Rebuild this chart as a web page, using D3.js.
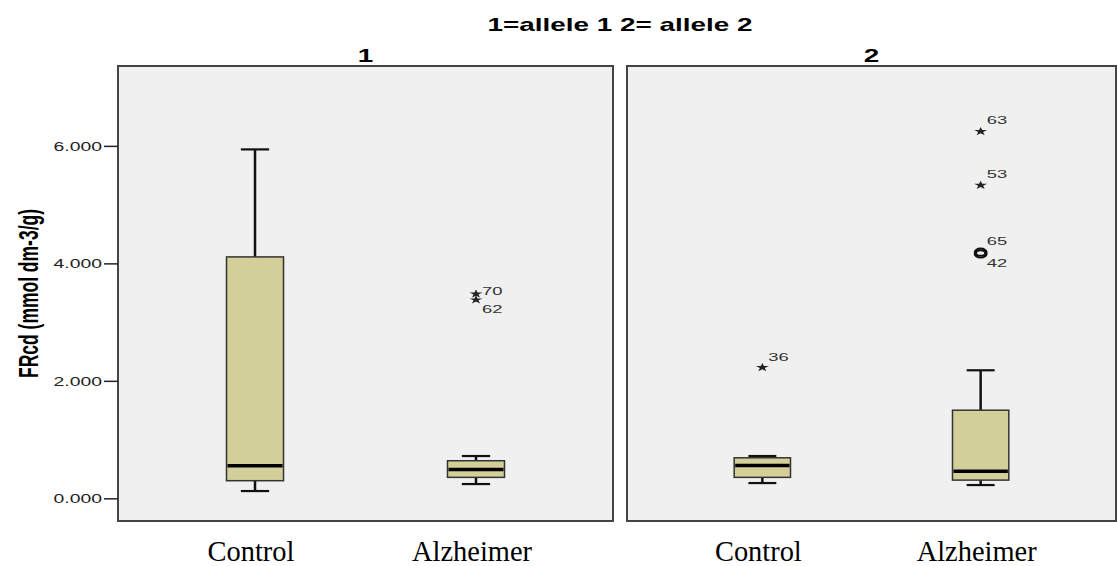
<!DOCTYPE html>
<html>
<head>
<meta charset="utf-8">
<script src="https://cdn.jsdelivr.net/npm/d3@7"></script>
<style>
  body { margin: 0; background: #ffffff; }
  svg { display: block; }
</style>
</head>
<body>
<svg id="chart" width="1117" height="566"></svg>
<script>
// Panels (allele) and groups within each panel
const panels = ["1", "2"];
const groups = ["Control", "Alzheimer"];
const yTicks = [0, 2, 4, 6];

// Box summaries per group: [lower whisker, Q1, median, Q3, upper whisker]
const allele1Stats = [
  [0.124, 0.300, 0.555, 4.110, 5.940],
  [0.243, 0.357, 0.490, 0.640, 0.720]
];
const allele2Stats = [
  [0.260, 0.357, 0.560, 0.690, 0.720],
  [0.226, 0.310, 0.459, 1.500, 2.180]
];

// Outlying cases: [group, case number, FRcd value]
const allele1Outliers = [
  ["Alzheimer", "70", 3.48],
  ["Alzheimer", "62", 3.38]
];
const allele2Outliers = [
  ["Control", "36", 2.227],
  ["Alzheimer", "63", 6.245],
  ["Alzheimer", "53", 5.33],
  ["Alzheimer", "65", 4.19],
  ["Alzheimer", "42", 4.16]
];

const panelStats = [allele1Stats, allele2Stats];
const panelOutliers = [allele1Outliers, allele2Outliers];

// ---- layout ----
const panelX = [[118, 613], [627, 1116]];
const plotTop = 66, plotBottom = 521;
const SX = 1.55;   // horizontal stretch of the sans-serif lettering
// where a case label sits relative to its marker (default: above right)
const labelSide = { "70": "e", "62": "se", "42": "se" };
const labelDy = { ne: -7, e: 1, se: 13 };

const svg = d3.select("#chart");

const y = d3.scaleLinear().domain([-0.386, 7.36]).range([plotBottom, plotTop]);

function stretchedText(g, str, x, yPos, opts) {
  return g.append("text")
    .attr("transform", `translate(${x},${yPos}) scale(${opts.sx || SX},1)`)
    .attr("text-anchor", opts.anchor || "middle")
    .attr("font-family", opts.family || "'Liberation Sans', Arial, sans-serif")
    .attr("font-size", opts.size)
    .attr("font-weight", opts.weight || "normal")
    .attr("fill", opts.fill || "#000")
    .text(str);
}

// main title
stretchedText(svg, "1=allele 1 2= allele 2", 620, 31, { size: 18, weight: "bold" });

// y axis title
svg.append("text")
  .attr("transform", `translate(28,${(plotTop + plotBottom) / 2}) scale(1.6,1) rotate(-90)`)
  .attr("text-anchor", "middle")
  .attr("dominant-baseline", "central")
  .attr("font-family", "'Liberation Sans', Arial, sans-serif")
  .attr("font-size", 17.5)
  .attr("font-weight", "bold")
  .attr("fill", "#000")
  .text("FRcd (mmol dm-3/g)");

panels.forEach((p, i) => {
  const [x0, x1] = panelX[i];
  const g = svg.append("g");

  g.append("rect")
    .attr("x", x0).attr("y", plotTop)
    .attr("width", x1 - x0).attr("height", plotBottom - plotTop)
    .attr("fill", "#f0f0f0")
    .attr("stroke", "#444")
    .attr("stroke-width", 2);

  // panel header
  stretchedText(g, p, (x0 + x1) / 2, plotTop - 4, { size: 18, weight: "bold" });

  const x = d3.scalePoint().domain(groups).range([x0, x1]).padding(0.62);
  const step = x.step();
  const hw = step * 0.129;   // half box width
  const cw = step * 0.064;   // half whisker-cap width

  panelStats[i].forEach((s, k) => {
    const [lo, q1, med, q3, hi] = s;
    const c = x(groups[k]);
    const bg = g.append("g");
    // whiskers
    bg.append("line").attr("x1", c).attr("x2", c).attr("y1", y(q3)).attr("y2", y(hi))
      .attr("stroke", "#111").attr("stroke-width", 2.5);
    bg.append("line").attr("x1", c).attr("x2", c).attr("y1", y(q1)).attr("y2", y(lo))
      .attr("stroke", "#111").attr("stroke-width", 2.5);
    [hi, lo].forEach(v => {
      bg.append("line").attr("x1", c - cw).attr("x2", c + cw).attr("y1", y(v)).attr("y2", y(v))
        .attr("stroke", "#111").attr("stroke-width", 2.2);
    });
    // box
    bg.append("rect")
      .attr("x", c - hw).attr("y", y(q3))
      .attr("width", 2 * hw).attr("height", y(q1) - y(q3))
      .attr("fill", "#d3cf98")
      .attr("stroke", "#333")
      .attr("stroke-width", 1.5);
    // median
    bg.append("line").attr("x1", c - hw + 1).attr("x2", c + hw - 1).attr("y1", y(med)).attr("y2", y(med))
      .attr("stroke", "#000").attr("stroke-width", 3.5);

    // outliers for this group
    const iqr = q3 - q1;
    panelOutliers[i].filter(o => o[0] === groups[k]).forEach(([grp, id, v]) => {
      const cy = y(v);
      const extreme = v > q3 + 3 * iqr || v < q1 - 3 * iqr;
      if (extreme) {
        bg.append("path")
          .attr("d", d3.symbol(d3.symbolStar, 23)())
          .attr("transform", `translate(${c},${cy}) scale(1.5,1)`)
          .attr("fill", "#222");
      } else {
        bg.append("circle")
          .attr("r", 3.6)
          .attr("transform", `translate(${c},${cy}) scale(1.5,1)`)
          .attr("fill", "none")
          .attr("stroke", "#111")
          .attr("stroke-width", 2);
      }
      const side = labelSide[id] || "ne";
      stretchedText(bg, id, c + 6, cy + labelDy[side], {
        size: 11.5, anchor: "start", sx: 1.6, fill: "#333"
      });
    });

    // group label below the panel
    stretchedText(g, groups[k], c - 4, 561, {
      size: 29, sx: 0.98, family: "'Liberation Serif', 'Times New Roman', serif"
    });
  });

  // y axis on the first panel only
  if (i === 0) {
    const ax = g.append("g")
      .attr("transform", `translate(${x0},0)`)
      .call(d3.axisLeft(y).tickValues(yTicks).tickFormat(d3.format(".3f")).tickSize(14));
    ax.select(".domain").remove();
    ax.selectAll(".tick line").attr("stroke", "#222").attr("stroke-width", 1.5);
    ax.selectAll(".tick text")
      .attr("x", null)
      .attr("dy", "0.35em")
      .attr("transform", `translate(-16,0) scale(${SX},1)`)
      .attr("font-family", "'Liberation Sans', Arial, sans-serif")
      .attr("font-size", 12.5)
      .attr("fill", "#222");
  }
});
</script>
</body>
</html>
